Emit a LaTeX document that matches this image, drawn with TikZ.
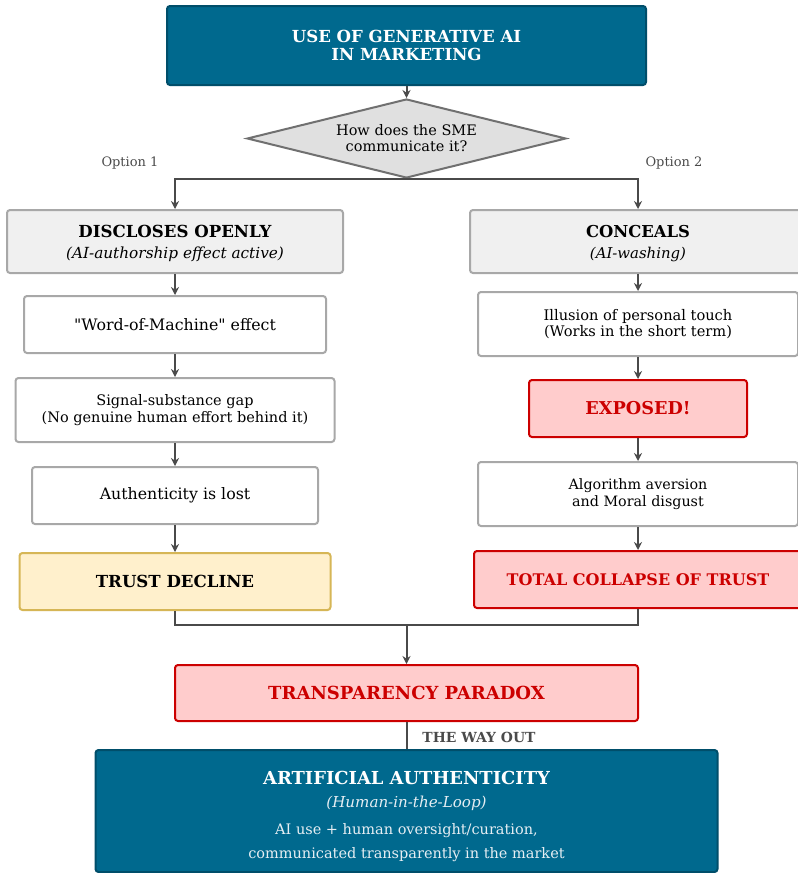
\documentclass[tikz,border=0pt]{standalone}
\usepackage{fontspec}
\setmainfont{DejaVu Serif}
\usetikzlibrary{shapes.geometric,arrows.meta}
\definecolor{tealbg}{HTML}{00698E}
\definecolor{tealbd}{HTML}{004E6A}
\definecolor{grayfill}{HTML}{F0F0F0}
\definecolor{graybd}{HTML}{A8A8A8}
\definecolor{diafill}{HTML}{E0E0E0}
\definecolor{diabd}{HTML}{707070}
\definecolor{redfill}{HTML}{FFCCCC}
\definecolor{redbd}{HTML}{CC0000}
\definecolor{yelfill}{HTML}{FFF0CC}
\definecolor{yelbd}{HTML}{D6B656}
\definecolor{linec}{HTML}{4A4A4A}
\definecolor{lighttxt}{HTML}{E6EEF3}
\tikzset{
  box/.style={draw, rounded corners=3pt, line width=2pt, align=center, inner sep=0pt},
  tealbox/.style={box, fill=tealbg, draw=tealbd, text=white},
  graybox/.style={box, fill=grayfill, draw=graybd},
  whitebox/.style={box, fill=white, draw=graybd},
  redbox/.style={box, fill=redfill, draw=redbd, text=redbd},
  yelbox/.style={box, fill=yelfill, draw=yelbd},
  arr/.style={draw=linec, line width=2pt, -{Stealth[length=8pt,width=8pt]}},
  conn/.style={draw=linec, line width=2pt},
  optlabel/.style={text=linec, font=\fontsize{13}{15}\selectfont},
  txt/.style={inner sep=0pt, align=center},
}
\begin{document}
\begin{tikzpicture}[x=1pt,y=-1pt]
\clip (0,0) rectangle (798,873);
\fill[white] (0,0) rectangle (798,873);

\node[tealbox, minimum width=479, minimum height=79, font=\fontsize{16.6}{18}\selectfont\bfseries] (top) at (406.5,45.5) {USE OF GENERATIVE AI\\IN MARKETING};

\node[shape=diamond, draw=diabd, fill=diafill, line width=2pt, aspect=4.04, minimum width=319, minimum height=79, inner sep=0pt, align=center, font=\fontsize{14.5}{16}\selectfont] (dia) at (406.5,138.5) {How does the SME\\communicate it?};

\node[optlabel] (o1) at (130,163) {Option 1};
\node[optlabel] (o2) at (674,163) {Option 2};

% left column
\node[graybox, minimum width=336, minimum height=63] (dis) at (175,241.5) {{\fontsize{16.6}{18}\selectfont\bfseries\rule{0pt}{16pt}DISCLOSES OPENLY}\\[9pt]{\fontsize{15.3}{18}\selectfont\itshape (AI-authorship effect active)}};
\node[whitebox, minimum width=302, minimum height=57, font=\fontsize{15.8}{18}\selectfont] (wom) at (175,324.5) {\textquotedbl Word-of-Machine\textquotedbl{} effect};
\node[whitebox, minimum width=319, minimum height=64, font=\fontsize{14.5}{16.5}\selectfont] (ssg) at (175,410) {Signal-substance gap\\(No genuine human effort behind it)};
\node[whitebox, minimum width=286, minimum height=57, font=\fontsize{15.8}{18}\selectfont] (auth) at (175,495.5) {Authenticity is lost};
\node[yelbox, minimum width=311, minimum height=57, font=\fontsize{16.6}{18}\selectfont\bfseries] (trust) at (175,581.5) {TRUST DECLINE};

% right column
\node[graybox, minimum width=336, minimum height=63] (con) at (638,241.5) {{\fontsize{16.4}{18}\selectfont\bfseries\rule{0pt}{16pt}CONCEALS}\\[9pt]{\fontsize{14.9}{18}\selectfont\itshape (AI-washing)}};
\node[whitebox, minimum width=320, minimum height=64, font=\fontsize{14.6}{16.5}\selectfont] (ill) at (638,324) {Illusion of personal touch\\(Works in the short term)};
\node[redbox, minimum width=218, minimum height=57, font=\fontsize{17.7}{20}\selectfont\bfseries] (exp) at (638,408.5) {EXPOSED!};
\node[whitebox, minimum width=320, minimum height=64, font=\fontsize{14.3}{16.5}\selectfont] (alg) at (638,494) {Algorithm aversion\\and Moral disgust};
\node[redbox, minimum width=328, minimum height=57, font=\fontsize{16}{18}\selectfont\bfseries] (tot) at (638,579.5) {TOTAL COLLAPSE OF TRUST};

% bottom
\node[redbox, minimum width=463, minimum height=56, font=\fontsize{18}{20}\selectfont\bfseries] (par) at (406.5,693) {TRANSPARENCY PARADOX};
\node[tealbox, minimum width=622, minimum height=122] (aa) at (406.5,811) {};
\node[txt, text=white, font=\fontsize{17.9}{20}\selectfont\bfseries] (aa1) at (406.5,778) {ARTIFICIAL AUTHENTICITY};
\node[txt, text=lighttxt, font=\fontsize{15.1}{18}\selectfont\itshape] (aa2) at (406.5,803) {(Human-in-the-Loop)};
\node[txt, text=lighttxt, font=\fontsize{14.5}{17}\selectfont] (aa3) at (406.5,831) {AI use + human oversight/curation,};
\node[txt, text=lighttxt, font=\fontsize{14.5}{17}\selectfont] (aa4) at (406.5,855) {communicated transparently in the market};

% connectors
\draw[arr] (top.south) -- (dia.north);
\draw[arr] (dia.south) -| (dis.north);
\draw[arr] (dia.south) -| (con.north);
\draw[arr] (dis) -- (wom);
\draw[arr] (wom) -- (ssg);
\draw[arr] (ssg) -- (auth);
\draw[arr] (auth) -- (trust);
\draw[arr] (con) -- (ill);
\draw[arr] (ill) -- (exp);
\draw[arr] (exp) -- (alg);
\draw[arr] (alg) -- (tot);
\coordinate (m) at (406.5,625);
\draw[conn] (trust.south) |- (m);
\draw[conn] (tot.south) |- (m);
\draw[arr] (m) -- (par.north);
\draw[conn] (par.south) -- (aa.north);
\node[text=linec, font=\fontsize{13.9}{16}\selectfont\bfseries] (way) at (479,737.5) {THE WAY OUT};
\end{tikzpicture}
\end{document}
